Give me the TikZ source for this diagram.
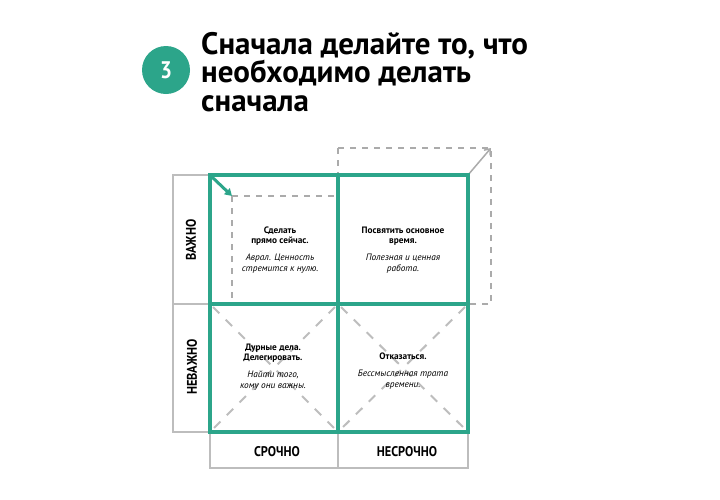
\documentclass[tikz,border=0pt]{standalone}
\usepackage{fontspec}
\setmainfont{PT Sans}
\newfontfamily\cond[FakeStretch=0.88]{PT Sans}
\newfontfamily\titlefont{PT Sans}
\newfontfamily\quadfont{PT Sans}
\usetikzlibrary{arrows.meta}
\definecolor{tgreen}{HTML}{2CA58A}
\definecolor{tgray}{HTML}{BDBDBD}
\definecolor{dgray}{HTML}{ABABAB}
\tikzset{
  greenline/.style={draw=tgreen, line width=4pt},
  grayline/.style={draw=tgray, line width=2pt},
  dashline/.style={draw=dgray, line width=2pt, dash pattern=on 6pt off 6pt},
  xline/.style={draw=tgray, line width=2pt, dash pattern=on 9pt off 9pt},
  qtext/.style={align=center, font=\quadfont\fontsize{9.3}{10.8}\selectfont, text=black},
  axlabel/.style={font=\cond\bfseries\fontsize{14}{16}\selectfont, text=black},
}
\begin{document}
\begin{tikzpicture}[x=1pt,y=-1pt]
\useasboundingbox[fill=white] (0,0) rectangle (720,499);
% title
\node[circle, fill=tgreen, minimum size=48pt, inner sep=0pt, text=white,
      font=\cond\bfseries\fontsize{24}{24}\selectfont] (num) at (166,70) {3};
\node[anchor=north west, align=left, inner sep=0pt,
      font=\titlefont\bfseries\fontsize{31}{28.5}\selectfont] (title) at (201,32)
  {Сначала делайте то, что\\необходимо делать\\сначала};
% coordinates
\coordinate (gTL) at (210,175);
\coordinate (gTM) at (338,175);
\coordinate (gTR) at (468,175);
\coordinate (gML) at (210,304);
\coordinate (gMM) at (338,304);
\coordinate (gMR) at (468,304);
\coordinate (gBL) at (210,432);
\coordinate (gBM) at (338,432);
\coordinate (gBR) at (468,432);
% dashed moved square
\coordinate (dTL) at (338,148);
\coordinate (dTR) at (491,148);
\coordinate (dBR) at (491,304);
\draw[dashline] (dTL) -- (dTR) -- (dBR) -- (gMM);
\draw[dashline] (dTL) -- (gTM);
\draw[draw=dgray, line width=1.5pt, -{Straight Barb[length=5pt,width=8pt]}] (gTR) -- (dTR);
% left label column
\coordinate (lT) at (173,175);
\coordinate (lM) at (173,304);
\coordinate (lB) at (173,432);
\draw[grayline] (gTL) -- (lT) -- (lB) -- (gBL);
\draw[grayline] (lM) -- (gML);
% bottom label row
\coordinate (bL) at (210,468);
\coordinate (bM) at (338,468);
\coordinate (bR) at (468,468);
\draw[grayline] (gBL) -- (bL) -- (bR) -- (gBR);
\draw[grayline] (gBM) -- (bM);
% X in bottom quadrants
\draw[xline] (213,307) -- (335,429);
\draw[xline] (335,307) -- (213,429);
\draw[xline] (341,307) -- (465,429);
\draw[xline] (465,307) -- (341,429);
% inner dashed in top-left
\coordinate (iC) at (232,196);
\draw[dashline] (iC) -- (gTM |- iC);
\draw[dashline] (iC) -- (iC |- gMM);
% green grid
\draw[greenline] (gTL) rectangle (gBR);
\draw[greenline] (gTM) -- (gBM);
\draw[greenline] (gML) -- (gMR);
\draw[draw=tgreen, line width=3pt, -{Triangle[length=7pt,width=8pt]}] (212,177) -- (iC);
% quadrant texts
\node[qtext] (q1) at (280,250) {\bfseries Сделать\\ \bfseries прямо сейчас.\\[6pt] \itshape Аврал. Ценность\\ \itshape стремится к нулю.};
\node[qtext] (q2) at (403,250) {\bfseries Посвятить основное\\ \bfseries время.\\[6pt] \itshape Полезная и ценная\\ \itshape работа.};
\node[qtext] (q3) at (273,367) {\bfseries Дурные дела.\\ \bfseries Делегировать.\\[6pt] \itshape Найти того,\\ \itshape кому они важны.};
\node[qtext] (q4) at (403,371) {\bfseries Отказаться.\\[6pt] \itshape Бессмысленная трата\\ \itshape времени.};
% axis labels
\node[axlabel, rotate=90] (imp) at (191,240) {ВАЖНО};
\node[axlabel, rotate=90] (nimp) at (192,367) {НЕВАЖНО};
\node[axlabel] (urg) at (277,452) {СРОЧНО};
\node[axlabel] (nurg) at (407,452) {НЕСРОЧНО};
\end{tikzpicture}
\end{document}
